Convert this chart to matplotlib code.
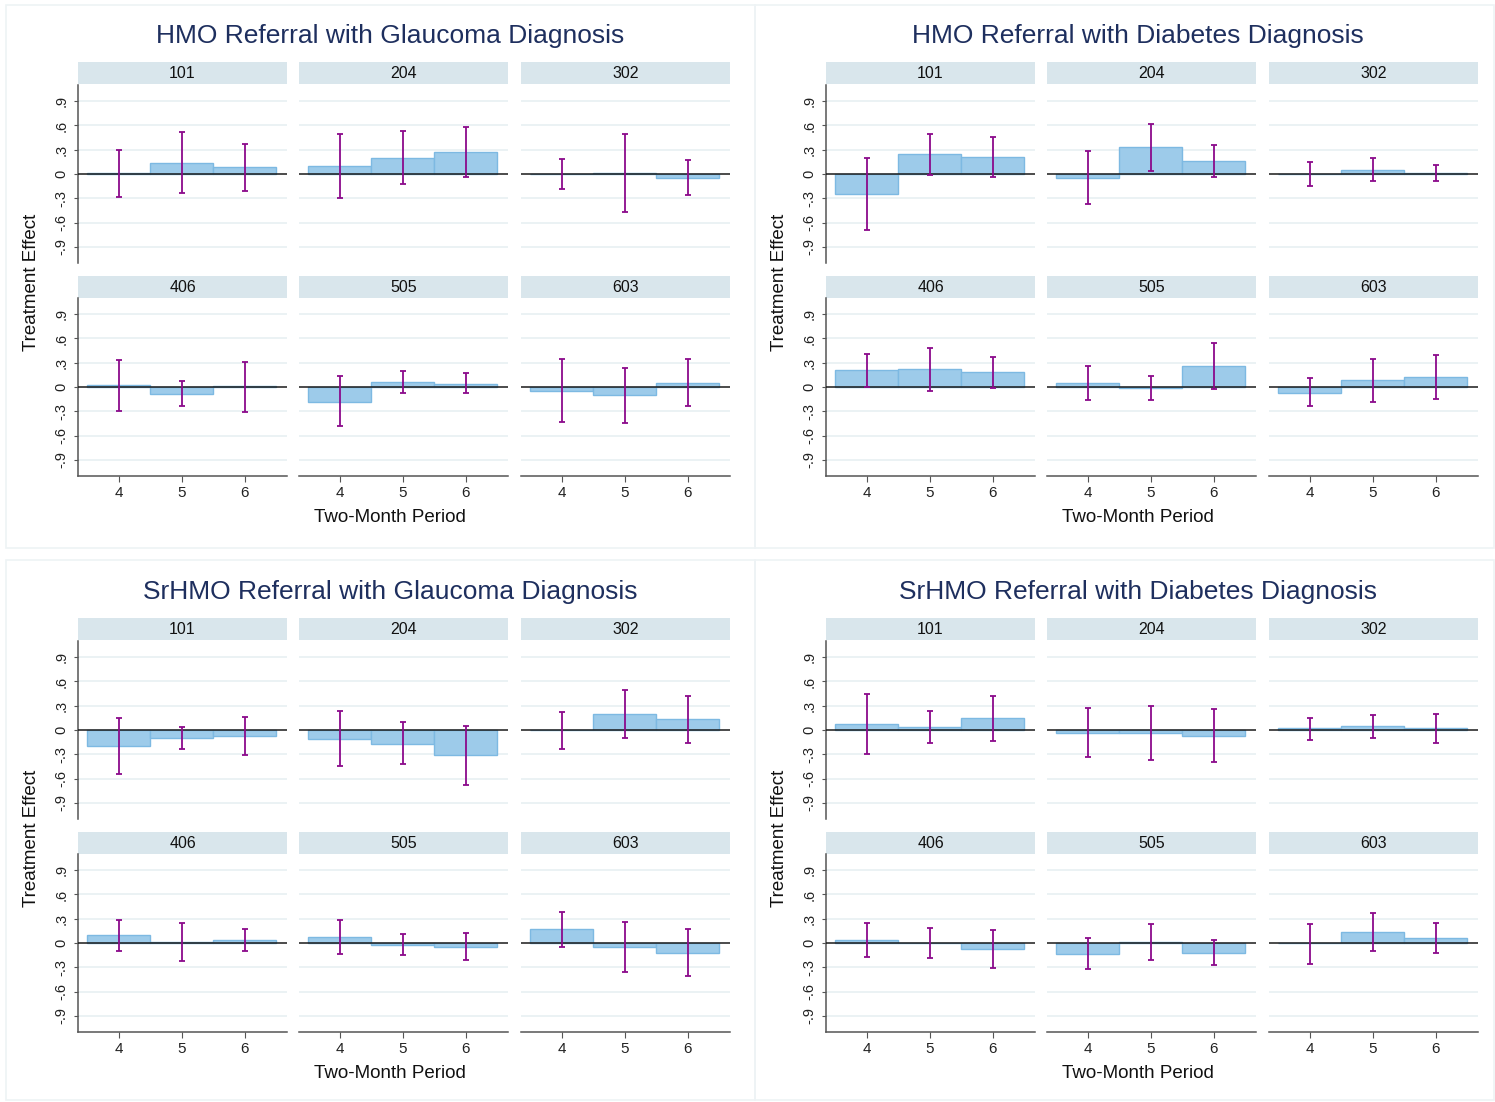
import matplotlib
matplotlib.use("Agg")
import matplotlib.pyplot as plt
from matplotlib.patches import Rectangle

plt.rcParams['font.family'] = ['Liberation Sans', 'DejaVu Sans']

# ---------------- data ----------------
periods = [4, 5, 6]
period_labels = ['4', '5', '6']
groups = ['101', '204', '302', '406', '505', '603']
yticks = [-0.9, -0.6, -0.3, 0, 0.3, 0.6, 0.9]
ytick_labels = ['-.9', '-.6', '-.3', '0', '.3', '.6', '.9']

titles = ['HMO Referral with Glaucoma Diagnosis',
          'HMO Referral with Diabetes Diagnosis',
          'SrHMO Referral with Glaucoma Diagnosis',
          'SrHMO Referral with Diabetes Diagnosis']

# HMO referral, glaucoma
est_hmo_glau = [[0.01, 0.14, 0.085], [0.10, 0.20, 0.27], [-0.005, 0.015, -0.055],
                [0.02, -0.09, 0.01], [-0.18, 0.06, 0.04], [-0.045, -0.10, 0.05]]
lo_hmo_glau = [[-0.28, -0.24, -0.21], [-0.30, -0.12, -0.035], [-0.19, -0.47, -0.26],
               [-0.30, -0.235, -0.305], [-0.48, -0.08, -0.08], [-0.43, -0.44, -0.24]]
hi_hmo_glau = [[0.295, 0.52, 0.375], [0.49, 0.53, 0.58], [0.18, 0.49, 0.17],
               [0.33, 0.075, 0.31], [0.13, 0.20, 0.17], [0.345, 0.24, 0.34]]

# HMO referral, diabetes
est_hmo_diab = [[-0.245, 0.245, 0.21], [-0.045, 0.33, 0.16], [0.005, 0.055, 0.015],
                [0.21, 0.225, 0.18], [0.045, -0.015, 0.26], [-0.075, 0.085, 0.125]]
lo_hmo_diab = [[-0.69, -0.01, -0.04], [-0.37, 0.04, -0.04], [-0.15, -0.09, -0.09],
               [0.005, -0.045, -0.01], [-0.165, -0.16, -0.025], [-0.24, -0.19, -0.145]]
hi_hmo_diab = [[0.195, 0.50, 0.455], [0.28, 0.615, 0.355], [0.15, 0.20, 0.11],
               [0.41, 0.48, 0.37], [0.255, 0.14, 0.55], [0.11, 0.345, 0.395]]

# SrHMO referral, glaucoma
est_sr_glau = [[-0.20, -0.10, -0.08], [-0.11, -0.17, -0.315], [0.005, 0.20, 0.14],
               [0.095, 0.015, 0.04], [0.075, -0.025, -0.05], [0.17, -0.05, -0.12]]
lo_sr_glau = [[-0.54, -0.23, -0.31], [-0.44, -0.42, -0.675], [-0.235, -0.10, -0.155],
              [-0.095, -0.22, -0.095], [-0.14, -0.15, -0.215], [-0.05, -0.355, -0.405]]
hi_sr_glau = [[0.15, 0.04, 0.165], [0.235, 0.10, 0.055], [0.225, 0.50, 0.42],
              [0.28, 0.245, 0.17], [0.29, 0.11, 0.125], [0.385, 0.26, 0.17]]

# SrHMO referral, diabetes
est_sr_diab = [[0.075, 0.04, 0.15], [-0.035, -0.04, -0.07], [0.02, 0.045, 0.03],
               [0.04, -0.005, -0.08], [-0.14, 0.015, -0.12], [0.005, 0.14, 0.065]]
lo_sr_diab = [[-0.30, -0.155, -0.13], [-0.335, -0.37, -0.39], [-0.12, -0.105, -0.16],
              [-0.17, -0.185, -0.31], [-0.325, -0.215, -0.27], [-0.255, -0.095, -0.125]]
hi_sr_diab = [[0.45, 0.23, 0.42], [0.275, 0.30, 0.26], [0.15, 0.185, 0.20],
              [0.245, 0.18, 0.16], [0.06, 0.23, 0.04], [0.235, 0.37, 0.25]]

panels = [(est_hmo_glau, lo_hmo_glau, hi_hmo_glau),
          (est_hmo_diab, lo_hmo_diab, hi_hmo_diab),
          (est_sr_glau, lo_sr_glau, hi_sr_glau),
          (est_sr_diab, lo_sr_diab, hi_sr_diab)]

# ---------------- styling / layout ----------------
W, H = 1495, 1102
fig = plt.figure(figsize=(W / 100, H / 100), dpi=100)
fig.patch.set_facecolor('white')

BAR_FC = '#9dcbea'
BAR_EC = '#7db9e2'
ERR_C = '#8b0a8b'
GRID_C = '#e8f0f2'
STRIP_C = '#d9e6ec'
SPINE_C = '#555555'
TITLE_C = '#1e2f5e'

def fx(px):
    return px / W

def fy(py):
    return 1 - py / H

def add_px_axes(x0, y0, w, h, **kw):
    return fig.add_axes([fx(x0), fy(y0 + h), w / W, h / H], **kw)

# panel frames
frame_c = '#eef3f5'
for (x0, y0, x1, y1) in [(6, 5, 755, 548), (755, 5, 1494, 548),
                         (6, 560, 755, 1100), (755, 560, 1494, 1100)]:
    fig.patches.append(Rectangle((fx(x0), fy(y1)), (x1 - x0) / W, (y1 - y0) / H,
                                 transform=fig.transFigure, fill=False,
                                 edgecolor=frame_c, linewidth=1.2))

col_x = [78, 299, 521]
col_w = 209
strip_y = [62, 276]
strip_h = 22
ax_y = [85, 298]
ax_h = 178

offsets = [(0, 0), (748, 0), (0, 556), (748, 556)]

for p, (est, lo, hi) in enumerate(panels):
    ox, oy = offsets[p]
    fig.text(fx(390 + ox), fy(36 + oy), titles[p], ha='center', va='center',
             fontsize=19, color=TITLE_C)
    fig.text(fx(32 + ox), fy(282 + oy), 'Treatment Effect', ha='center', va='center',
             rotation=90, fontsize=13.5, color='#111111')
    fig.text(fx(390 + ox), fy(517 + oy), 'Two-Month Period', ha='center', va='center',
             fontsize=13.5, color='#111111')
    for g in range(6):
        r, c = divmod(g, 3)
        x0 = col_x[c] + ox
        # strip
        sax = add_px_axes(x0, strip_y[r] + oy, col_w, strip_h)
        sax.set_facecolor(STRIP_C)
        sax.set_xticks([])
        sax.set_yticks([])
        for s in sax.spines.values():
            s.set_visible(False)
        sax.text(0.5, 0.5, groups[g], ha='center', va='center', fontsize=11.5,
                 color='#111111', transform=sax.transAxes)
        # plot axes
        ax = add_px_axes(x0, ax_y[r] + oy, col_w, ax_h)
        ax.set_xlim(3.35, 6.67)
        ax.set_ylim(-1.1, 1.1)
        for yv in yticks:
            if yv != 0:
                ax.axhline(yv, color=GRID_C, linewidth=1.2, zorder=0)
        ax.bar(periods, est[g], width=1.0, color=BAR_FC, edgecolor=BAR_EC,
               linewidth=1.0, zorder=2)
        ax.axhline(0, color='#1a1a1a', linewidth=1.1, zorder=3)
        yerr_lo = [est[g][i] - lo[g][i] for i in range(3)]
        yerr_hi = [hi[g][i] - est[g][i] for i in range(3)]
        ax.errorbar(periods, est[g], yerr=[yerr_lo, yerr_hi], fmt='none',
                    ecolor=ERR_C, elinewidth=1.3, capsize=2.5, capthick=1.3, zorder=4)
        for s in ['top', 'right']:
            ax.spines[s].set_visible(False)
        ax.spines['left'].set_visible(c == 0)
        ax.spines['bottom'].set_visible(r == 1)
        ax.spines['left'].set_color(SPINE_C)
        ax.spines['bottom'].set_color(SPINE_C)
        ax.spines['left'].set_linewidth(1.1)
        ax.spines['bottom'].set_linewidth(1.1)
        if c == 0:
            ax.set_yticks(yticks)
            ax.set_yticklabels(ytick_labels, rotation=90, va='center', fontsize=10.5,
                               color='#222222')
            ax.tick_params(axis='y', length=3, color=SPINE_C, pad=4)
        else:
            ax.set_yticks([])
        if r == 1:
            ax.set_xticks(periods)
            ax.set_xticklabels(period_labels, fontsize=11, color='#222222')
            ax.tick_params(axis='x', length=4, color=SPINE_C, pad=3)
        else:
            ax.set_xticks([])
        ax.set_facecolor('none')

fig.savefig('out.png', dpi=100, facecolor='white')
